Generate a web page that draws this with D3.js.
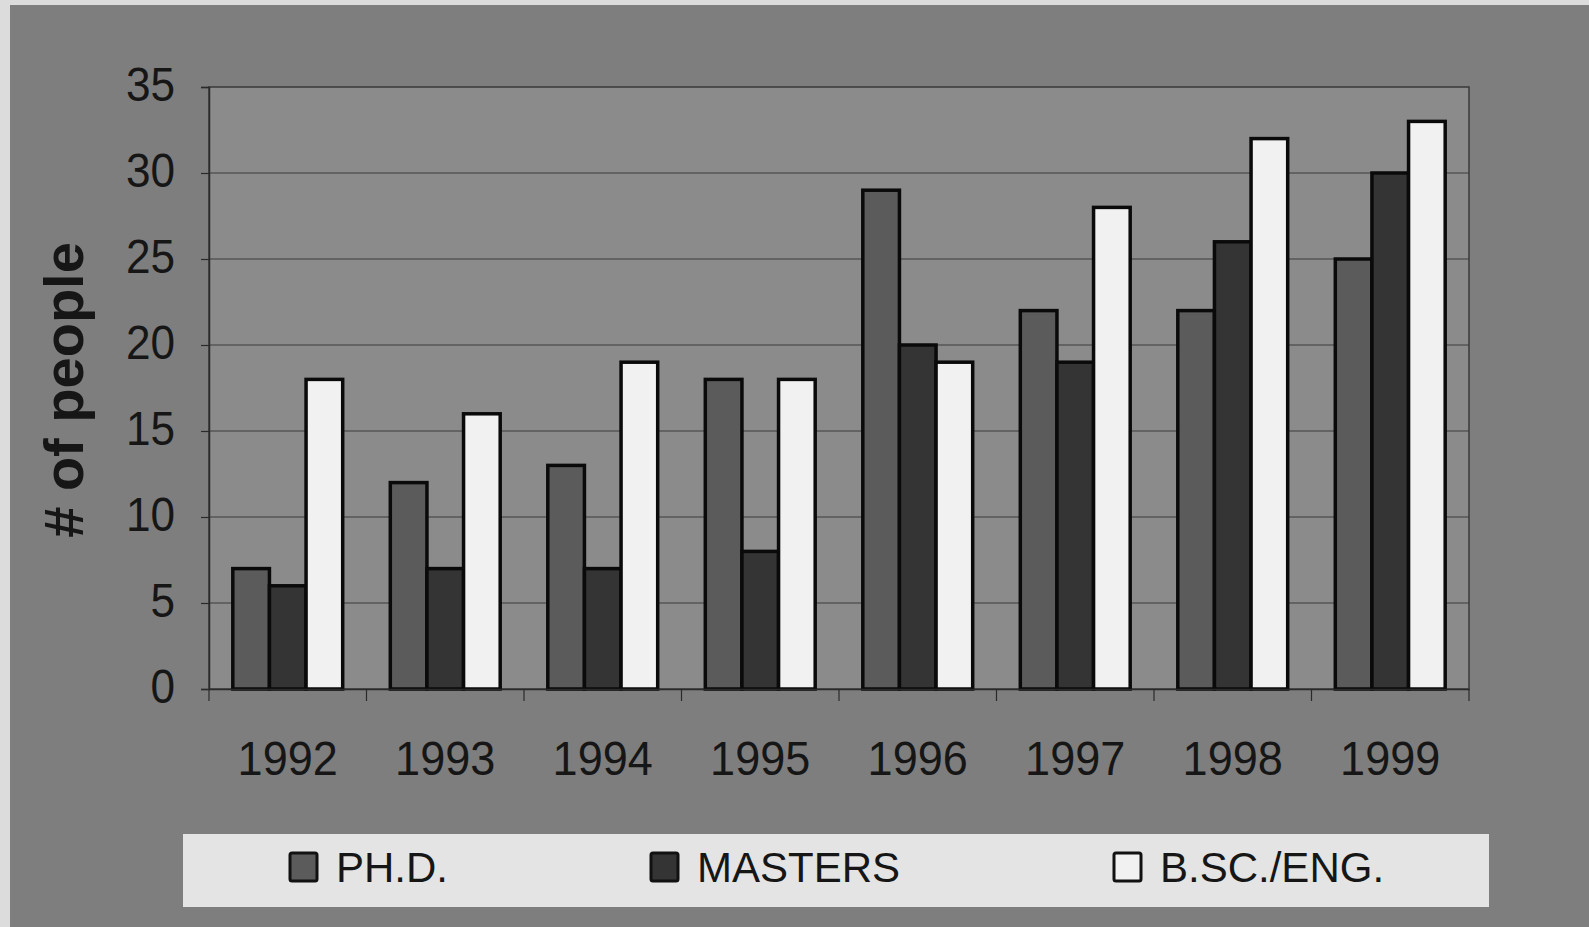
<!DOCTYPE html>
<html>
<head>
<meta charset="utf-8">
<script src="https://cdn.jsdelivr.net/npm/d3@7"></script>
<style>
  body { margin: 0; background: #dcdcdc; }
  text { font-family: "Liberation Sans", Arial, sans-serif; fill: #161616; }
</style>
</head>
<body>
<div id="chart"></div>
<script>
// data
const years = ["1992", "1993", "1994", "1995", "1996", "1997", "1998", "1999"];
const series = ["PH.D.", "MASTERS", "B.SC./ENG."];
const phd = [7, 12, 13, 18, 29, 22, 22, 25];
const masters = [6, 7, 7, 8, 20, 19, 26, 30];
const bsc = [18, 16, 19, 18, 19, 28, 32, 33];
const yTicks = [0, 5, 10, 15, 20, 25, 30, 35];

const colors = ["#5b5b5b", "#343434", "#f1f1f1"];
const values = [phd, masters, bsc];

let width = 1589, height = 927;
let plot = {left: 209, right: 1469, top: 87, bottom: 689};

let svg = d3.select("#chart")
  .append("svg")
    .attr("width", width)
    .attr("height", height);

// outer background (scan edge is lighter)
svg.append("rect")
  .attr("x", 0).attr("y", 0).attr("width", width).attr("height", height)
  .attr("fill", "#dcdcdc");
svg.append("rect")
  .attr("x", 10).attr("y", 5).attr("width", width - 10).attr("height", height - 5)
  .attr("fill", "#7e7e7e");

// plot area
svg.append("rect")
  .attr("x", plot.left).attr("y", plot.top)
  .attr("width", plot.right - plot.left).attr("height", plot.bottom - plot.top)
  .attr("fill", "#8b8b8b")
  .attr("stroke", "#3a3a3a")
  .attr("stroke-width", 1.5);

// scales
let x0 = d3.scaleBand()
  .domain(years)
  .range([plot.left, plot.right])
  .padding(0);
let x1 = d3.scaleBand()
  .domain(series)
  .range([0, x0.bandwidth()])
  .paddingInner(0)
  .paddingOuter(0.65);
let y = d3.scaleLinear()
  .domain([0, 35])
  .range([plot.bottom, plot.top]);

// gridlines
svg.append("g")
  .selectAll("line")
  .data(yTicks.filter(function(d) { return d > 0 && d < 35; }))
  .enter()
  .append("line")
    .attr("x1", plot.left).attr("x2", plot.right)
    .attr("y1", function(d) { return y(d); })
    .attr("y2", function(d) { return y(d); })
    .attr("stroke", "#3c3c3c")
    .attr("stroke-width", 1.2);

// bars
let table = years.map(function(yr, i) {
  return {year: yr, items: series.map(function(s, j) { return {key: s, value: values[j][i], color: colors[j]}; })};
});

svg.append("g")
  .selectAll("g")
  .data(table)
  .enter()
  .append("g")
    .attr("transform", function(d) { return "translate(" + x0(d.year) + ",0)"; })
  .selectAll("rect")
  .data(function(d) { return d.items; })
  .enter()
  .append("rect")
    .attr("x", function(d) { return x1(d.key); })
    .attr("y", function(d) { return y(d.value); })
    .attr("width", x1.bandwidth())
    .attr("height", function(d) { return y(0) - y(d.value); })
    .attr("fill", function(d) { return d.color; })
    .attr("stroke", "#0a0a0a")
    .attr("stroke-width", 3.5);

// y axis
let yAxis = d3.axisLeft(y)
  .tickValues(yTicks)
  .tickSize(8);
let gy = svg.append("g")
  .attr("transform", "translate(" + plot.left + ",0)")
  .call(yAxis);
gy.select(".domain").attr("stroke", "#2a2a2a").attr("stroke-width", 1.5);
gy.selectAll(".tick line").attr("stroke", "#2a2a2a").attr("stroke-width", 1.2);
gy.selectAll(".tick text")
  .style("font-family", "'Liberation Sans', Arial, sans-serif")
  .style("font-size", "48px")
  .attr("fill", "#161616")
  .attr("x", 0)
  .attr("dy", "0.28em")
  .attr("transform", "translate(-34,0) scale(0.92,1)");

// x axis (tick marks at category boundaries)
let xAxis = d3.axisBottom(x0).tickSize(0);
let gx = svg.append("g")
  .attr("transform", "translate(0," + plot.bottom + ")")
  .call(xAxis);
gx.select(".domain").attr("stroke", "#2a2a2a").attr("stroke-width", 1.5);
gx.selectAll(".tick text")
  .style("font-family", "'Liberation Sans', Arial, sans-serif")
  .style("font-size", "49px")
  .attr("fill", "#161616")
  .attr("y", 0)
  .attr("dy", 0)
  .attr("transform", "translate(0,86) scale(0.92,1)");
gx.append("g")
  .selectAll("line")
  .data(years.concat(["end"]))
  .enter()
  .append("line")
    .attr("x1", function(d, i) { return plot.left + i * x0.step(); })
    .attr("x2", function(d, i) { return plot.left + i * x0.step(); })
    .attr("y1", 0).attr("y2", 12)
    .attr("stroke", "#2a2a2a")
    .attr("stroke-width", 1.2);

// y axis title
svg.append("text")
  .attr("transform", "translate(83,390) rotate(-90)")
  .attr("text-anchor", "middle")
  .style("font-size", "56px")
  .style("font-weight", "bold")
  .text("# of people");

// legend
let legend = svg.append("g");
legend.append("rect")
  .attr("x", 183).attr("y", 834).attr("width", 1306).attr("height", 73)
  .attr("fill", "#e4e4e4");
let legendX = [290, 651, 1114];
let items = legend.selectAll("g")
  .data(series)
  .enter()
  .append("g")
    .attr("transform", function(d, i) { return "translate(" + legendX[i] + ",853)"; });
items.append("rect")
  .attr("width", 27).attr("height", 28)
  .attr("rx", 2)
  .attr("fill", function(d, i) { return colors[i]; })
  .attr("stroke", "#111")
  .attr("stroke-width", 3);
items.append("text")
  .attr("x", 46).attr("y", 29)
  .style("font-size", "42px")
  .text(function(d) { return d; });
</script>
</body>
</html>
